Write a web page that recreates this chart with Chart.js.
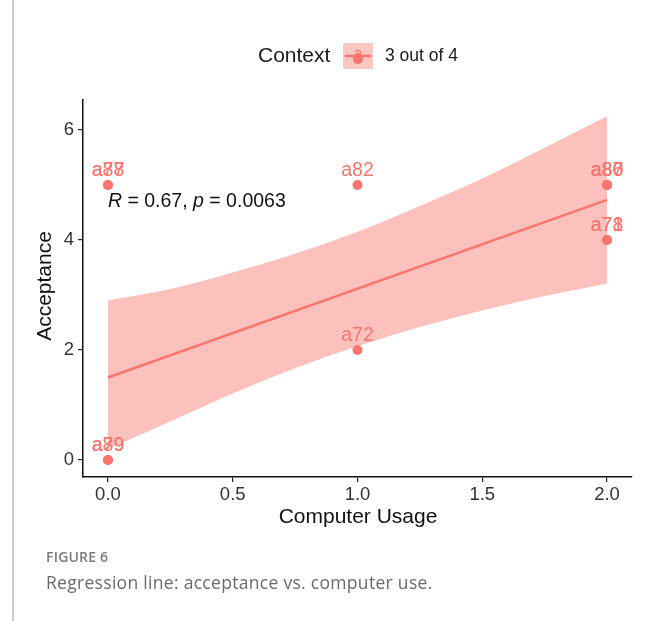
<!DOCTYPE html>
<html>
<head>
<meta charset="utf-8">
<script src="https://cdn.jsdelivr.net/npm/chart.js@4.4.1/dist/chart.umd.min.js"></script>
<style>
  html, body { margin: 0; padding: 0; background: #fff; }
  #wrap { position: relative; width: 656px; height: 621px; overflow: hidden; background: #fff; }
  #c { position: absolute; left: 0; top: 0; }
  .side { position: absolute; left: 12px; top: 0; width: 2px; height: 621px; background: #cfcfcf; }
  .fig { position: absolute; left: 46px; top: 547px; font: 600 14px "Open Sans", sans-serif; color: #7a7a7a; letter-spacing: 0.2px; }
  .cap { position: absolute; left: 46px; top: 570px; font: 17.5px "Open Sans", sans-serif; color: #6a6a6a; letter-spacing: 0.3px; }
</style>
</head>
<body>
<div id="wrap">
  <canvas id="c" width="656" height="621"></canvas>
  <div class="side"></div>
  <div class="fig">FIGURE 6</div>
  <div class="cap">Regression line: acceptance vs. computer use.</div>
</div>
<script>
// Observations: computer usage vs. acceptance, one entry per participant
const usage = [0, 0, 0, 0, 1, 1, 2, 2, 2, 2, 2];
const acceptance = [5, 5, 0, 0, 5, 2, 5, 5, 5, 4, 4];
const participants = ['a77', 'a88', 'a79', 'a89', 'a82', 'a72', 'a80', 'a87', 'a86', 'a71', 'a78'];

// Fitted regression line
const fitX = [0, 2];
const fitY = [1.5, 4.73];

// 95% confidence band around the fit
const bandX = [0, 0.25, 0.5, 0.75, 1, 1.25, 1.5, 1.75, 2];
const bandUpper = [2.9, 3.11, 3.41, 3.75, 4.15, 4.62, 5.12, 5.68, 6.25];
const bandLower = [0.2, 0.70, 1.21, 1.67, 2.07, 2.42, 2.72, 2.98, 3.21];

// Axis ticks
const xTicks = [0, 0.5, 1, 1.5, 2];
const yTicks = [0, 2, 4, 6];

const RED = '#F8766D';
const PINK = 'rgba(248,118,109,0.45)';
const FONT = '"Liberation Sans", Arial, sans-serif';

const zip = (xs, ys) => xs.map((x, i) => ({ x, y: ys[i] }));

const decorations = {
  id: 'decorations',
  afterDatasetsDraw(chart) {
    const ctx = chart.ctx;
    const xs = chart.scales.x, ys = chart.scales.y;
    ctx.save();

    // participant labels above each point
    ctx.font = '19.5px ' + FONT;
    ctx.fillStyle = RED;
    ctx.textAlign = 'center';
    ctx.textBaseline = 'middle';
    participants.forEach((lab, i) => {
      const px = xs.getPixelForValue(usage[i]);
      const py = ys.getPixelForValue(acceptance[i]);
      ctx.fillText(lab, px, py - 14);
    });

    // correlation annotation
    const ax = xs.getPixelForValue(0);
    const ay = ys.getPixelForValue(4.7);
    const runs = [
      ['italic 19.5px ' + FONT, 'R'],
      ['19.5px ' + FONT, ' = 0.67, '],
      ['italic 19.5px ' + FONT, 'p'],
      ['19.5px ' + FONT, ' = 0.0063']
    ];
    ctx.fillStyle = '#111';
    ctx.textAlign = 'left';
    let cx = ax;
    runs.forEach(([f, t]) => {
      ctx.font = f;
      ctx.fillText(t, cx, ay);
      cx += ctx.measureText(t).width;
    });

    // legend
    ctx.font = '21px ' + FONT;
    ctx.fillStyle = '#1a1a1a';
    ctx.fillText('Context', 258, 56);
    ctx.fillStyle = 'rgba(248,118,109,0.42)';
    ctx.fillRect(343, 43, 30, 26);
    ctx.strokeStyle = RED;
    ctx.lineWidth = 2.5;
    ctx.beginPath();
    ctx.moveTo(345, 56);
    ctx.lineTo(371, 56);
    ctx.stroke();
    ctx.fillStyle = RED;
    ctx.beginPath();
    ctx.arc(358, 59, 5, 0, Math.PI * 2);
    ctx.fill();
    ctx.font = '16px ' + FONT;
    ctx.textAlign = 'center';
    ctx.fillText('a', 358, 55);
    ctx.font = '17.5px ' + FONT;
    ctx.fillStyle = '#1a1a1a';
    ctx.textAlign = 'left';
    ctx.fillText('3 out of 4', 385, 56);

    // axis titles
    ctx.font = '21px ' + FONT;
    ctx.fillStyle = '#111';
    ctx.textAlign = 'center';
    ctx.fillText('Computer Usage', 358, 517);
    ctx.translate(45, 286);
    ctx.rotate(-Math.PI / 2);
    ctx.fillText('Acceptance', 0, 0);
    ctx.restore();
  }
};

new Chart(document.getElementById('c'), {
  type: 'scatter',
  data: {
    datasets: [
      {
        type: 'line',
        data: zip(bandX, bandUpper),
        borderWidth: 0,
        pointRadius: 0,
        cubicInterpolationMode: 'monotone',
        backgroundColor: PINK,
        fill: '+1',
        order: 4
      },
      {
        type: 'line',
        data: zip(bandX, bandLower),
        borderWidth: 0,
        pointRadius: 0,
        cubicInterpolationMode: 'monotone',
        fill: false,
        order: 3
      },
      {
        type: 'line',
        data: zip(fitX, fitY),
        borderColor: RED,
        borderWidth: 2.5,
        pointRadius: 0,
        fill: false,
        order: 2
      },
      {
        data: zip(usage, acceptance),
        backgroundColor: RED,
        borderWidth: 0,
        pointRadius: 5,
        order: 1
      }
    ]
  },
  options: {
    responsive: false,
    animation: false,
    devicePixelRatio: 1,
    layout: { padding: { top: 100, right: 24, left: 0, bottom: 0 } },
    plugins: { legend: { display: false }, tooltip: { enabled: false } },
    scales: {
      x: {
        type: 'linear',
        min: -0.1,
        max: 2.1,
        afterBuildTicks: s => { s.ticks = xTicks.map(v => ({ value: v })); },
        afterFit: s => { s.height = 144; },
        grid: { drawOnChartArea: false, drawTicks: true, tickLength: 5, color: '#222', lineWidth: 1.2 },
        border: { display: true, color: '#111', width: 1.5 },
        ticks: { font: { size: 18.5, family: FONT }, color: '#333', padding: 2, maxRotation: 0,
                 callback: v => v.toFixed(1) }
      },
      y: {
        type: 'linear',
        min: -0.309,
        max: 6.546,
        afterBuildTicks: s => { s.ticks = yTicks.map(v => ({ value: v })); },
        afterFit: s => { s.width = 83; },
        grid: { drawOnChartArea: false, drawTicks: true, tickLength: 5, color: '#222', lineWidth: 1.2 },
        border: { display: true, color: '#111', width: 1.5 },
        ticks: { font: { size: 18.5, family: FONT }, color: '#333', padding: 4,
                 callback: v => String(v) }
      }
    }
  },
  plugins: [decorations]
});
</script>
</body>
</html>
